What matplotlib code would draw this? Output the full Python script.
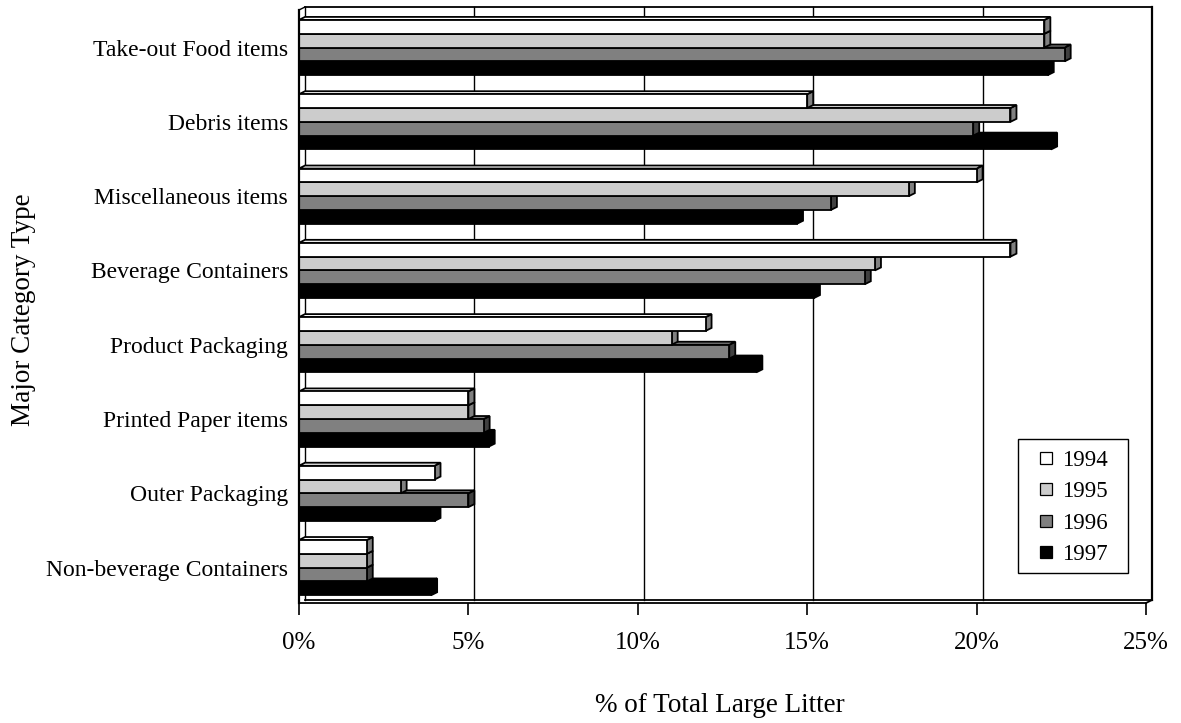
import numpy as np
import matplotlib
matplotlib.use("Agg")
import matplotlib.pyplot as plt
from matplotlib.patches import Rectangle, Polygon
from matplotlib.lines import Line2D

#--- data
categories = ["Take-out Food items", "Debris items", "Miscellaneous items",
              "Beverage Containers", "Product Packaging", "Printed Paper items",
              "Outer Packaging", "Non-beverage Containers"]
years = ["1994", "1995", "1996", "1997"]
v1994 = [22.0, 15.0, 20.0, 21.0, 12.0, 5.0, 4.0, 2.0]
v1995 = [22.0, 21.0, 18.0, 17.0, 11.0, 5.0, 3.0, 2.0]
v1996 = [22.6, 19.9, 15.7, 16.7, 12.7, 5.45, 5.0, 2.0]
v1997 = [22.1, 22.2, 14.7, 15.2, 13.5, 5.6, 4.0, 3.9]
xticks = [0, 5, 10, 15, 20, 25]
xticklabels = ["0%", "5%", "10%", "15%", "20%", "25%"]

front = ["#ffffff", "#cccccc", "#808080", "#000000"]   # front / top face
side = ["#808080", "#808080", "#404040", "#000000"]    # right side face

plt.rcParams["font.family"] = ["Liberation Serif", "DejaVu Serif"]

W, H = 1181, 723
fig = plt.figure(figsize=(W / 100, H / 100), dpi=100)
ax = fig.add_axes([299 / W, 1 - 603 / H, 847 / W, 593 / H])

ytop, ybot = -0.505, 7.476
ax.set_xlim(0, 25)
ax.set_ylim(ybot, ytop)

# depth offset of the fake 3d look, in data units
px_x = 847 / 25.0
px_y = 593 / (ybot - ytop)
dx = 6 / px_x
dy = 3 / px_y
bar_h = 13.8 / px_y

#--- back wall + gridlines
for v in xticks[1:-1]:
    ax.plot([v + dx, v + dx], [ytop - dy, ybot - dy], color="black", lw=1.0,
            zorder=1, clip_on=False)
ax.plot([dx, dx], [ytop - dy, ybot - dy], color="black", lw=1.0, zorder=1, clip_on=False)
ax.plot([dx, 25 + dx], [ytop - dy, ytop - dy], color="black", lw=1.3, zorder=1, clip_on=False)
ax.plot([25 + dx, 25 + dx], [ytop - dy, ybot - dy], color="black", lw=1.6, zorder=1, clip_on=False)
ax.plot([dx, 25 + dx], [ybot - dy, ybot - dy], color="black", lw=1.3, zorder=1, clip_on=False)
ax.plot([25, 25 + dx], [ybot, ybot - dy], color="black", lw=1.3, zorder=1, clip_on=False)
ax.plot([0, dx], [ytop, ytop - dy], color="black", lw=1.0, zorder=1, clip_on=False)

#--- bars (lowest bar of a group first so upper front faces cover lower tops)
series = [v1994, v1995, v1996, v1997]
for i in range(len(categories)):
    for j in [3, 2, 1, 0]:
        v = series[j][i]
        top = i - 2 * bar_h + j * bar_h
        bot = top + bar_h
        z = 3 + i * 4 + (3 - j)
        sf = Polygon([(v, top), (v + dx, top - dy), (v + dx, bot - dy), (v, bot)],
                     closed=True, fc=side[j], ec="black", lw=1.3, zorder=z,
                     clip_on=False)
        tf = Polygon([(0, top), (v, top), (v + dx, top - dy), (dx, top - dy)],
                     closed=True, fc=front[j], ec="black", lw=1.3, zorder=z,
                     clip_on=False)
        ff = Rectangle((0, top), v, bar_h, fc=front[j], ec="black", lw=1.3,
                       zorder=z, clip_on=False)
        ax.add_patch(sf)
        ax.add_patch(tf)
        ax.add_patch(ff)

#--- axes
for s in ["top", "right"]:
    ax.spines[s].set_visible(False)
ax.spines["left"].set_linewidth(1.6)
ax.spines["bottom"].set_linewidth(1.3)
ax.spines["left"].set_zorder(50)
ax.set_xticks(xticks)
ax.set_xticklabels(xticklabels, fontsize=18)
ax.tick_params(axis="x", direction="out", length=8.6, width=1.2, pad=12.5)
ax.set_yticks(range(len(categories)))
ax.set_yticklabels(categories, fontsize=17)
ax.tick_params(axis="y", length=0, pad=8)

fig.text(24 / W, 1 - 310 / H, "Major Category Type", rotation=90, fontsize=19.5,
         ha="center", va="center")
fig.text(720 / W, 1 - 705 / H, "% of Total Large Litter", fontsize=19.5,
         ha="center", va="center")

#--- legend (frame drawn by hand)
handles = [Line2D([], [], marker="s", ls="none", ms=8.5, mfc=front[j], mec="black",
                  mew=0.9) for j in range(4)]
ax.legend(handles, years, loc="center", bbox_to_anchor=(1073 / W, 1 - 507.5 / H),
          bbox_transform=fig.transFigure, frameon=False, fontsize=16.5,
          borderpad=0, handlelength=0.7, handletextpad=0.36, labelspacing=0.45)
fig.patches.append(Rectangle((1018 / W, 1 - 573 / H), 110 / W, 134 / H,
                             transform=fig.transFigure, fill=False, ec="black", lw=1.0))

fig.savefig("out.png", dpi=100)
